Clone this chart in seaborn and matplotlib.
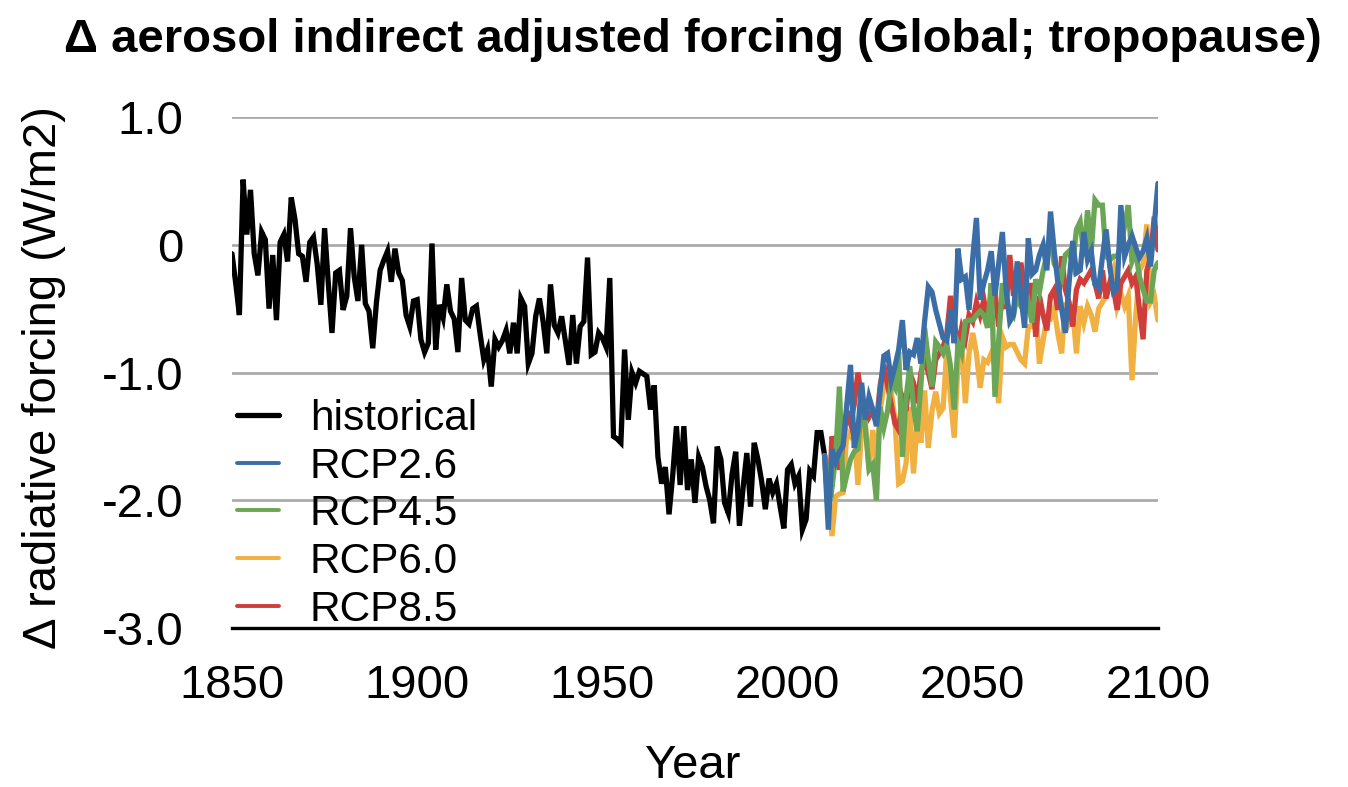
import numpy as np
import pandas as pd
import matplotlib
matplotlib.use("Agg")
import matplotlib.pyplot as plt
import seaborn as sns
from matplotlib.lines import Line2D

# ---------------- data ----------------
hist_years = list(range(1850, 2011))
hist_vals = [
    -0.07, -0.30, -0.55, 0.51, 0.08, 0.43, -0.07, -0.24, 0.10, 0.04,      # 1850s
    -0.50, -0.08, -0.59, 0.02, 0.08, -0.13, 0.37, 0.20, -0.07, -0.09,     # 1860s
    -0.29, 0.02, 0.06, -0.15, -0.47, 0.13, -0.30, -0.69, -0.22, -0.20,    # 1870s
    -0.51, -0.40, 0.13, -0.25, -0.44, 0.00, -0.46, -0.52, -0.81, -0.45,   # 1880s
    -0.20, -0.12, -0.05, -0.29, -0.03, -0.22, -0.28, -0.55, -0.64, -0.44, # 1890s
    -0.43, -0.74, -0.84, -0.77, 0.01, -0.82, -0.47, -0.57, -0.31, -0.52,  # 1900s
    -0.58, -0.84, -0.26, -0.59, -0.62, -0.50, -0.48, -0.70, -0.90, -0.82, # 1910s
    -1.11, -0.74, -0.80, -0.75, -0.67, -0.85, -0.61, -0.85, -0.42, -0.48, # 1920s
    -0.93, -0.85, -0.56, -0.42, -0.60, -0.85, -0.31, -0.63, -0.69, -0.56, # 1930s
    -0.75, -0.94, -0.55, -0.93, -0.64, -0.60, -0.10, -0.86, -0.84, -0.69, # 1940s
    -0.73, -0.80, -0.26, -1.50, -1.52, -1.55, -0.82, -1.37, -1.00, -1.08, # 1950s
    -0.99, -1.01, -1.03, -1.29, -1.10, -1.66, -1.87, -1.74, -2.11, -1.80, # 1960s
    -1.42, -1.88, -1.42, -1.92, -1.68, -2.02, -1.66, -1.74, -1.89, -2.00, # 1970s
    -2.18, -1.58, -1.68, -2.02, -2.10, -1.80, -1.62, -2.20, -1.90, -1.63, # 1980s
    -2.05, -1.55, -1.68, -1.85, -2.07, -1.83, -1.94, -1.87, -2.05, -2.22, # 1990s
    -1.76, -1.72, -1.87, -1.81, -2.23, -2.15, -1.77, -1.81, -1.47, -1.47, # 2000s
    -1.65,                                                                # 2010
]

rcp_years = list(range(2010, 2101))
rcp26 = [
    -1.65,
    -2.23, -1.60, -1.70, -1.62, -1.57, -1.25, -0.94, -1.59, -1.45, -1.08,  # 2011-2020
    -1.37, -1.19, -1.29, -1.42, -1.15, -0.87, -0.85, -1.06, -0.95, -0.82,  # 2021-2030
    -0.59, -0.98, -0.84, -0.86, -0.73, -0.93, -0.60, -0.33, -0.37, -0.51,  # 2031-2040
    -0.62, -0.73, -0.75, -0.51, -0.77, -0.03, -0.27, -0.25, -0.51, -0.10,  # 2041-2050
    0.21, -0.43, -0.30, -0.20, -0.05, -0.40, -0.15, 0.10, -0.35, -0.60,    # 2051-2060
    -0.55, -0.13, -0.40, -0.65, 0.05, -0.23, -0.20, -0.08, 0.00, -0.20,    # 2061-2070
    0.26, -0.05, -0.30, -0.50, -0.69, -0.30, 0.03, -0.22, -0.20, 0.10,     # 2071-2080
    -0.12, -0.05, -0.31, -0.34, -0.10, 0.12, -0.17, -0.37, -0.34, 0.31,    # 2081-2090
    -0.09, 0.00, 0.07, -0.02, -0.10, -0.05, 0.05, -0.17, 0.15, 0.48,       # 2091-2100
]
rcp45 = [
    -1.65,
    -1.80, -1.90, -1.65, -1.11, -1.93, -1.80, -1.68, -1.62, -1.60, -1.24,
    -1.43, -1.76, -1.72, -2.00, -1.27, -1.43, -1.30, -1.07, -1.12, -0.84,
    -1.66, -1.20, -0.95, -1.27, -1.46, -1.10, -0.65, -0.90, -1.11, -0.76,
    -0.80, -0.85, -0.78, -0.95, -1.29, -0.77, -0.85, -0.60, -0.59, -0.59,
    -0.55, -0.52, -0.55, -0.65, -0.30, -1.19, -0.75, -0.30, -0.45, -0.50,
    -0.55, -0.40, -0.48, -0.52, -0.45, -0.61, -0.27, -0.37, -0.20, -0.09,
    0.03, -0.15, -0.20, -0.26, -0.08, -0.05, -0.15, 0.12, 0.18, -0.09,
    0.27, -0.05, 0.35, 0.31, 0.31, -0.09, -0.12, -0.09, -0.09, -0.01,
    0.15, 0.31, -0.13, -0.05, -0.25, -0.35, -0.44, -0.44, -0.20, -0.14,
]
rcp60 = [
    -1.65,
    -1.90, -2.28, -1.97, -1.95, -1.94, -1.46, -1.50, -1.46, -1.88, -1.46,
    -1.40, -1.76, -1.45, -1.71, -1.30, -1.10, -0.97, -1.15, -1.37, -1.87,
    -1.85, -1.71, -1.27, -1.79, -1.40, -1.55, -1.14, -1.59, -1.30, -1.15,
    -1.32, -1.28, -0.82, -1.20, -1.51, -0.95, -0.77, -1.24, -0.85, -0.69,
    -0.85, -1.12, -0.90, -0.92, -0.85, -0.95, -1.24, -0.72, -0.80, -0.78,
    -0.78, -0.84, -0.90, -0.93, -0.64, -0.64, -0.48, -0.93, -0.75, -0.57,
    -0.58, -0.50, -0.70, -0.85, -0.45, -0.60, -0.52, -0.85, -0.48, -0.61,
    -0.48, -0.55, -0.68, -0.50, -0.45, -0.40, -0.30, -0.20, -0.48, -0.38,
    -0.48, -0.40, -1.06, -0.56, -0.20, -0.15, 0.16, -0.45, -0.40, -0.59,
]
rcp85 = [
    -1.65,
    -2.10, -1.50, -1.60, -1.76, -1.55, -1.30, -1.40, -1.25, -1.00, -1.20,
    -1.25, -1.35, -1.30, -1.40, -1.10, -0.94, -1.10, -1.25, -1.40, -1.45,
    -1.20, -1.30, -1.00, -1.08, -1.24, -1.00, -0.90, -1.00, -1.13, -0.90,
    -0.85, -0.80, -0.70, -0.40, -0.60, -0.80, -0.65, -0.74, -0.55, -0.60,
    -0.45, -0.55, -0.43, -0.60, -0.45, -0.37, -0.64, -0.40, -0.50, -0.08,
    -0.40, -0.30, -0.14, -0.35, -0.45, -0.30, -0.72, -0.40, -0.55, -0.67,
    -0.40, -0.35, -0.51, -0.09, -0.35, -0.45, -0.64, -0.35, -0.27, -0.30,
    -0.25, -0.20, -0.30, -0.42, -0.20, -0.42, -0.30, -0.35, -0.51, -0.30,
    -0.25, -0.20, -0.30, -0.25, -0.50, -0.74, -0.20, -0.10, 0.22, -0.04,
]

scenario_names = ["historical", "RCP2.6", "RCP4.5", "RCP6.0", "RCP8.5"]
scenario_colors = {
    "historical": "#000000",
    "RCP2.6": "#3b6ea6",
    "RCP4.5": "#6aa655",
    "RCP6.0": "#f0b042",
    "RCP8.5": "#d03e3a",
}
y_ticks = [-3, -2, -1, 0, 1]
y_tick_labels = ["-3.0", "-2.0", "-1.0", "0", "1.0"]
x_ticks = [1850, 1900, 1950, 2000, 2050, 2100]
x_tick_labels = ["1850", "1900", "1950", "2000", "2050", "2100"]

frames = [pd.DataFrame({"Year": hist_years, "forcing": hist_vals, "scenario": "historical"})]
for name, vals in zip(scenario_names[1:], [rcp26, rcp45, rcp60, rcp85]):
    frames.append(pd.DataFrame({"Year": rcp_years, "forcing": vals, "scenario": name}))
df = pd.concat(frames, ignore_index=True)

# ---------------- plot ----------------
sns.set_theme(style="white")
plt.rcParams["font.family"] = ["Liberation Sans", "DejaVu Sans"]
plt.rcParams["text.color"] = "#000000"
plt.rcParams["axes.labelcolor"] = "#000000"
plt.rcParams["xtick.color"] = "#000000"
plt.rcParams["ytick.color"] = "#000000"

fig = plt.figure(figsize=(13.48, 7.87), dpi=100)
ax = fig.add_axes([0.1721, 0.2020, 0.6869, 0.6493])

draw_order = ["historical", "RCP6.0", "RCP8.5", "RCP4.5", "RCP2.6"]
for name in draw_order:
    sub = df[df["scenario"] == name]
    sns.lineplot(data=sub, x="Year", y="forcing", color=scenario_colors[name],
                 ax=ax, legend=False, estimator=None, zorder=3)
for line in ax.get_lines():
    line.set_linewidth(3.8)
    line.set_solid_joinstyle("miter")

ax.set_xlim(1850, 2100)
ax.set_ylim(-3, 1)
ax.set_yticks(y_ticks)
ax.set_yticklabels(y_tick_labels)
ax.set_xticks(x_ticks)
ax.set_xticklabels(x_tick_labels)
ax.yaxis.grid(True, color="#ababab", linewidth=2.0)
ax.xaxis.grid(False)
ax.set_axisbelow(True)
for s in ["left", "right", "top"]:
    ax.spines[s].set_visible(False)
ax.spines["bottom"].set_color("#000000")
ax.spines["bottom"].set_linewidth(2.4)
ax.spines["bottom"].set_zorder(4)
ax.tick_params(axis="both", length=0, labelsize=34, colors="#000000")
ax.tick_params(axis="y", pad=35)
ax.tick_params(axis="x", pad=26)
ax.set_xlabel("")
ax.set_ylabel("")

fig.text(0.514, 0.949, "Δ aerosol indirect adjusted forcing (Global; tropopause)",
         fontsize=34, fontweight="bold", ha="center", va="center", color="#000000")
fig.text(0.514, 0.027, "Year", fontsize=34, ha="center", va="center", color="#000000")
fig.text(0.033, 0.52, "Δ radiative forcing (W/m2)", fontsize=34, rotation=90,
         ha="center", va="center", color="#000000")

handles = []
for name in scenario_names:
    lw = 3.8 if name == "historical" else 2.8
    handles.append(Line2D([0], [0], color=scenario_colors[name], lw=lw))
leg = ax.legend(handles, scenario_names, loc="upper left", bbox_to_anchor=(0.1758, 0.493),
                bbox_transform=fig.transFigure, frameon=False, fontsize=30.5,
                handlelength=1.0, handletextpad=0.72, labelspacing=0.18,
                borderpad=0, borderaxespad=0)
for t in leg.get_texts():
    t.set_color("#000000")

fig.savefig("out.png", dpi=100)
